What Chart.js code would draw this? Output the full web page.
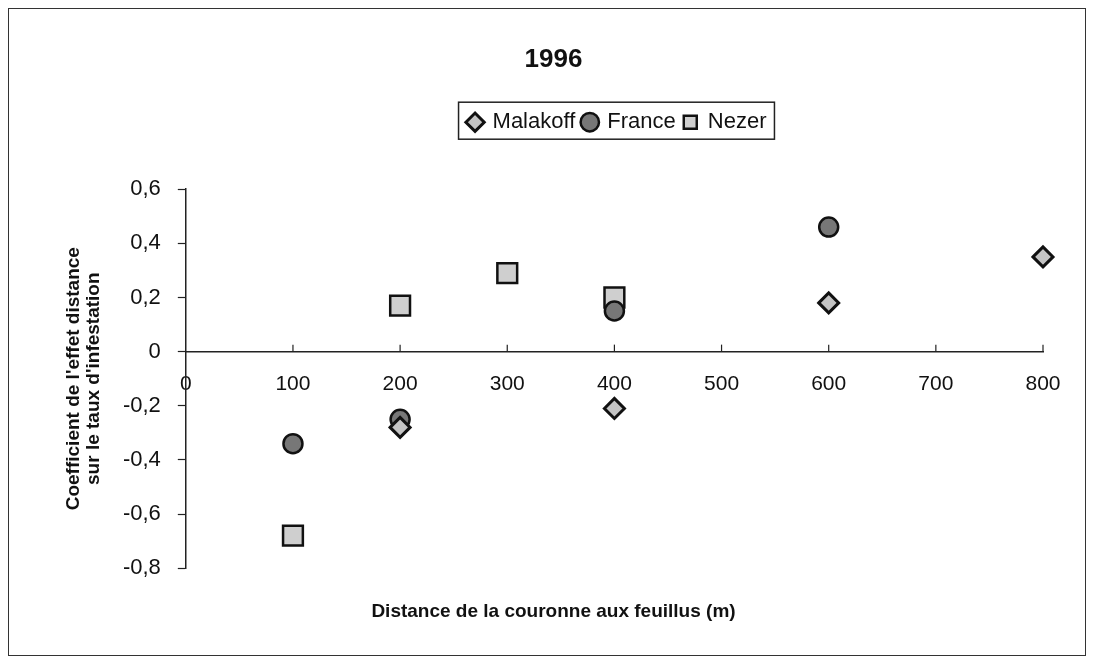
<!DOCTYPE html>
<html lang="fr">
<head>
    <meta charset="UTF-8">
    <title>1996</title>
    <script src="https://cdn.jsdelivr.net/npm/chart.js"></script>
    <style>
        body { margin: 0; background: #fff; }
        #cadre { position: absolute; left: 8px; top: 8px; width: 1076px; height: 646px; border: 1px solid #333; }
        #zone { position: absolute; left: 0; top: 0; width: 1093px; height: 665px; }
    </style>
</head>
<body>
    <div id="cadre"></div>
    <div id="zone"><canvas id="graphique" width="1093" height="665"></canvas></div>

    <script>
        // distances (m) et coefficients
        const malakoffX = [200, 400, 600, 800];
        const malakoffY = [-0.28, -0.21, 0.18, 0.35];
        const franceX = [100, 200, 400, 600];
        const franceY = [-0.34, -0.25, 0.15, 0.46];
        const nezerX = [100, 200, 300, 400];
        const nezerY = [-0.68, 0.17, 0.29, 0.20];

        const xTicks = [0, 100, 200, 300, 400, 500, 600, 700, 800];
        const yTicks = [-0.8, -0.6, -0.4, -0.2, 0, 0.2, 0.4, 0.6];

        function points(xs, ys) {
            return xs.map((x, i) => ({ x: x, y: ys[i] }));
        }

        // légende encadrée, décalée vers la droite, avec de l'espace en dessous
        const decalage = 64;
        const cadreLegende = {
            id: 'cadreLegende',
            afterInit(chart) {
                const legende = chart.legend;
                const fit = legende.fit;
                legende.fit = function () {
                    fit.call(this);
                    this.height += 46;
                };
                const draw = legende.draw;
                legende.draw = function () {
                    const ctx = this.ctx;
                    ctx.save();
                    ctx.translate(decalage, 0);
                    draw.call(this);
                    ctx.restore();
                };
            },
            afterDraw(chart) {
                const l = chart.legend;
                const boxes = l.legendHitBoxes;
                if (!boxes.length) return;
                const last = boxes[boxes.length - 1];
                const ctx = chart.ctx;
                ctx.save();
                ctx.strokeStyle = '#222';
                ctx.lineWidth = 1.5;
                ctx.strokeRect(boxes[0].left - 10 + decalage, l.top - 1, last.left + last.width - boxes[0].left + 18, 37);
                ctx.restore();
            }
        };

        // petites graduations de l'axe x, vers le haut
        const graduationsX = {
            id: 'graduationsX',
            afterDraw(chart) {
                const sx = chart.scales.x, sy = chart.scales.y;
                const y0 = sy.getPixelForValue(0);
                const ctx = chart.ctx;
                ctx.save();
                ctx.strokeStyle = '#222';
                ctx.lineWidth = 1.2;
                xTicks.forEach(v => {
                    if (v === 0) return;
                    const px = sx.getPixelForValue(v);
                    ctx.beginPath();
                    ctx.moveTo(px, y0);
                    ctx.lineTo(px, y0 - 7);
                    ctx.stroke();
                });
                ctx.restore();
            }
        };

        new Chart(document.getElementById('graphique'), {
            type: 'scatter',
            data: {
                datasets: [
                    {
                        label: 'Malakoff',
                        data: points(malakoffX, malakoffY),
                        pointStyle: 'rectRot',
                        pointRadius: 10,
                        backgroundColor: '#c4c4c4',
                        borderColor: '#111',
                        borderWidth: 3
                    },
                    {
                        label: 'France',
                        data: points(franceX, franceY),
                        pointStyle: 'circle',
                        pointRadius: 9.5,
                        backgroundColor: '#777',
                        borderColor: '#111',
                        borderWidth: 2.5
                    },
                    {
                        label: 'Nezer',
                        data: points(nezerX, nezerY),
                        pointStyle: 'rect',
                        pointRadius: 14,
                        backgroundColor: '#cfcfcf',
                        borderColor: '#111',
                        borderWidth: 2.5
                    }
                ]
            },
            options: {
                responsive: false,
                animation: false,
                clip: false,
                layout: { padding: { left: 64, right: 50, top: 40, bottom: 42 } },
                plugins: {
                    title: {
                        display: true,
                        text: '1996',
                        color: '#111',
                        font: { family: 'Liberation Sans', size: 26, weight: 'bold' },
                        padding: { top: 4, bottom: 28 }
                    },
                    subtitle: {
                        display: true,
                        position: 'bottom',
                        text: 'Distance de la couronne aux feuillus (m)',
                        color: '#111',
                        font: { family: 'Liberation Sans', size: 19, weight: 'bold' },
                        padding: { top: 32, bottom: 0 }
                    },
                    legend: {
                        display: true,
                        labels: {
                            usePointStyle: true,
                            boxWidth: 13,
                            boxHeight: 13,
                            padding: 8,
                            color: '#111',
                            font: { family: 'Liberation Sans', size: 22 }
                        }
                    },
                    tooltip: { enabled: false }
                },
                scales: {
                    x: {
                        type: 'linear',
                        position: { y: 0 },
                        min: 0,
                        max: 800,
                        afterBuildTicks(axis) { axis.ticks = xTicks.map(v => ({ value: v })); },
                        grid: { display: false },
                        border: { display: true, color: '#222', width: 1.5 },
                        ticks: {
                            color: '#111',
                            font: { family: 'Liberation Sans', size: 21 },
                            padding: 12,
                            maxRotation: 0
                        }
                    },
                    y: {
                        min: -0.8,
                        max: 0.6,
                        afterBuildTicks(axis) { axis.ticks = yTicks.map(v => ({ value: v })); },
                        grid: { display: true, drawOnChartArea: false, drawTicks: true, tickLength: 8, tickColor: '#222', tickWidth: 1.2 },
                        border: { display: true, color: '#222', width: 1.5 },
                        ticks: {
                            color: '#111',
                            font: { family: 'Liberation Sans', size: 22 },
                            padding: 17,
                            callback: v => String(Math.round(v * 10) / 10).replace('.', ',')
                        },
                        title: {
                            display: true,
                            text: ["Coefficient de l'effet distance", "sur le taux d'infestation"],
                            color: '#111',
                            font: { family: 'Liberation Sans', size: 19, weight: 'bold', lineHeight: 1.05 },
                            padding: { top: 0, bottom: 2 }
                        }
                    }
                }
            },
            plugins: [cadreLegende, graduationsX]
        });
    </script>
</body>
</html>
